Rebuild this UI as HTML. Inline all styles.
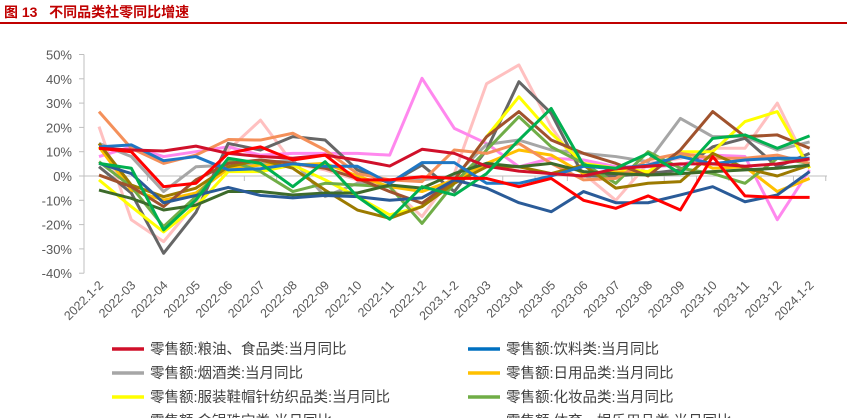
<!DOCTYPE html>
<html><head><meta charset="utf-8"><style>
body{margin:0;background:#fff;width:847px;height:418px;overflow:hidden;font-family:"Liberation Sans","Noto Sans CJK SC",sans-serif}
#title{position:absolute;left:4px;top:2px;font-size:14px;font-weight:bold;color:#c00000}
#rule{position:absolute;left:0;top:22px;width:847px;height:2px;background:#c00000}
svg{position:absolute;left:0;top:0}
</style></head><body>
<div id="title">图 13&nbsp;&nbsp;&nbsp;不同品类社零同比增速</div>
<div id="rule"></div>
<svg id="c" width="847" height="418"></svg>
<script>
const categories=["2022.1-2","2022-03","2022-04","2022-05","2022-06","2022-07","2022-08","2022-09","2022-10","2022-11","2022-12","2023.1-2","2023-03","2023-04","2023-05","2023-06","2023-07","2023-08","2023-09","2023-10","2023-11","2023-12","2024.1-2"];
const yTicks=[50,40,30,20,10,0,-10,-20,-30,-40];
const seriesNames=["粮油食品","饮料","烟酒","日用品","服装","化妆品","金银珠宝","体育娱乐","家电","中西药","文化办公","家具","通讯器材","建材","汽车"];
const colors=["#d0102a","#1f77c4","#a6a6a6","#ffc000","#ffff00","#70ad47","#666666","#00b050","#ff88ee","#ffc0c0","#f4905a","#ff0000","#a0522d","#9c7a00","#3d6b2b","#2a5b98"];
const sFood=[11.4,10.7,10.3,12.3,9.3,8,7.3,8.6,6.6,4.1,11,9.3,4,2,1,0,3,4,5,5,4,5,7];
const sDrink=[12,12.8,6.3,8,2.5,3,5,4,4,-3,5.5,5.5,-3,-3,0,4,3,4.5,8,5,6.6,7.3,7.3];
const sTobacco=[13.4,8,-6.4,3.8,4.5,5.2,6.6,-8.5,-3,-1.6,-1.6,0,13,14.8,10.7,9.3,8,5.9,23.7,16.2,16.2,10.7,14];
const sDaily=[12,-5.8,-9.9,-7,3,4.5,4.5,5.2,0,-4.4,-6.4,-1.6,5.2,10.7,8.6,1,1.8,1,9.3,3.2,3.8,-6.4,-1];
const sCloth=[-1.6,-12.6,-23,-12.6,1.8,1.8,4.5,-1.6,-8.5,-16,-12.6,-1.6,16.2,32.6,17.6,5.2,3.2,1.8,10,10,22.4,26.5,3.2];
const sCosm=[5.9,-4.4,-20.8,-8.5,6.6,1.8,-6.4,-3,-3.7,-4.4,-19.5,-3,10.7,24.4,12,5.2,-3,10,3.2,1,-3,7.3,5.2];
const sGold=[3.8,-7,-31.8,-15,13.4,10.7,16.2,14.8,2.5,-3,4.5,-6.4,10.7,38.8,25.8,0,0,1,2.5,12,15.5,3.8,9.3];
const sSport=[5.2,3.2,-22.2,-9.9,7.3,5.2,-4.4,5.9,-8.5,-17.8,-4.4,-7.8,1,14.8,27.8,4.5,3.2,9.3,1,15.5,16.9,11.4,16.5];
const sAppl=[8,12,8,10,12,8.6,9.3,9.3,9.3,8.6,40.2,19.6,13.4,3.8,7.3,6.6,3.8,3.8,4.5,8.6,8,-18,2.5];
const sMed=[20.3,-18,-27,-11,10.7,23,5.2,2.5,-1.6,-4.4,-16.7,1,38,45.7,20.3,1,-10,5.2,7.3,11.4,11.4,30,3.2];
const sOffice=[26.5,11.4,5.2,8.6,15,14.8,17.6,10.7,1,-1.6,-2.3,10.7,9.3,13.4,5.2,-1.6,-1,6.6,9.3,7.3,7.3,8.6,5.2];
const sFurn=[11.4,10,-4.4,-3,9.3,12,6.6,8.6,-1.6,-1.6,-0.3,-1,-1,-4.4,-1,-10,-13.3,-8.2,-14,8,-8.2,-8.8,-8.8];
const sComm=[0.4,-4.4,-12.6,-1.6,5.2,6.6,5.2,3.2,-1,-6.4,-11.2,-1.6,16.2,26.5,14.8,9.3,5.2,0,10.7,26.5,16.2,16.9,11.4];
const sBuild=[13.4,-3.7,-8.5,-5,3.8,6.6,3.2,-5.8,-14,-17.4,-12.6,-3,3.8,3.8,1,4.5,-5,-3,-2.3,9.3,3.2,0,4.5];
const sAuto=[-5.8,-9.2,-14,-12,-6.4,-6.4,-7.8,-7,-7,-3.7,-5,1,5.2,3.8,5.2,1.8,1,0.4,1,1.8,2.5,3.2,4.5];
const sDark=[5.2,1,-11,-8,-4.7,-8,-9,-8,-8.5,-10,-9,-1.6,-5,-11,-14.7,-6.4,-11,-11,-7.8,-4.4,-10.6,-7.8,1.8];
const seriesList=[sMed,sAppl,sTobacco,sGold,sDaily,sCloth,sCosm,sOffice,sBuild,sComm,sAuto,sDark,sDrink,sFood,sSport,sFurn];
const seriesColor=["#ffc0c0","#ff88ee","#a6a6a6","#666666","#ffc000","#ffff00","#70ad47","#f4905a","#9c7a00","#a0522d","#3d6b2b","#2a5b98","#1f77c4","#d0102a","#00b050","#ff0000"];
const legendItems=[["零售额:粮油、食品类:当月同比","#d0102a"],["零售额:饮料类:当月同比","#0070c0"],["零售额:烟酒类:当月同比","#a6a6a6"],["零售额:日用品类:当月同比","#ffc000"],["零售额:服装鞋帽针纺织品类:当月同比","#ffff00"],["零售额:化妆品类:当月同比","#70ad47"],["零售额:金银珠宝类:当月同比","#666666"],["零售额:体育、娱乐用品类:当月同比","#00b050"]];
const NS="http://www.w3.org/2000/svg";
const svg=document.getElementById('c');
const x0=99,dx=32.3,y0=176,py=2.43;
const X=i=>x0+dx*i, Y=v=>y0-v*py;
function mk(t,a){const e=document.createElementNS(NS,t);for(const k in a)e.setAttribute(k,a[k]);svg.appendChild(e);return e;}
let ax=mk('line',{x1:84,y1:Y(50),x2:84,y2:Y(-40),stroke:'#bfbfbf','stroke-width':1});

yTicks.forEach(v=>{
 mk('line',{x1:79,y1:Y(v),x2:84,y2:Y(v),stroke:'#bfbfbf'});
 const t=mk('text',{x:72,y:Y(v)+5,'text-anchor':'end','font-size':13,fill:'#595959'});t.textContent=v+'%';
 
});
let zl=mk('line',{x1:84,y1:Y(0),x2:827,y2:Y(0),stroke:'#bfbfbf','stroke-width':1});

categories.forEach((c,i)=>{
 const xx=X(i)+dx/2;
 mk('line',{x1:xx,y1:Y(0),x2:xx,y2:Y(0)+5,stroke:'#bfbfbf'});
 const t=mk('text',{x:X(i)+5,y:286,'text-anchor':'end','font-size':12.5,fill:'#595959',transform:`rotate(-45 ${X(i)+5} 286)`});t.textContent=c;
 
});
seriesList.forEach((s,k)=>{
 const p=mk('polyline',{points:s.map((v,i)=>X(i)+','+Y(v)).join(' '),fill:'none',stroke:seriesColor[k],'stroke-width':3,'stroke-linejoin':'round'});
 
});
legendItems.forEach((it,k)=>{
 const col=k%2,row=Math.floor(k/2);
 const lx=col?468:112, ly=349+row*24;
 const l=mk('line',{x1:lx,y1:ly,x2:lx+32,y2:ly,stroke:it[1],'stroke-width':3.5});
 
 const t=mk('text',{x:lx+38,y:ly+5,'font-size':14.5,fill:'#404040'});t.textContent=it[0];
 
});
</script>
</body></html>
